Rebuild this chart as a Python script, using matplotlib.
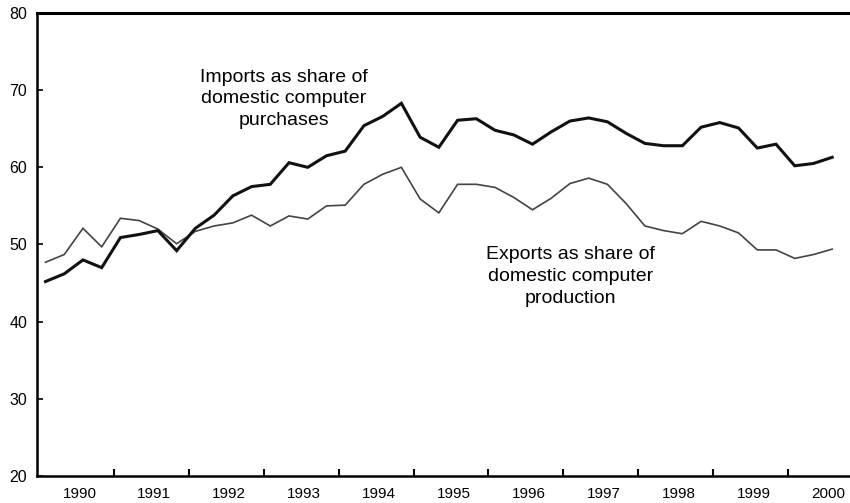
import matplotlib
matplotlib.use("Agg")
import matplotlib.pyplot as plt
import numpy as np

years = list(range(1990, 2001))
quarters = [(y, q) for y in range(1990, 2001) for q in (1, 2, 3, 4)][:43]

imports = [45.2, 46.2, 48.0, 47.0, 50.9, 51.3, 51.8, 49.2,
           52.1, 53.8, 56.3, 57.5, 57.8, 60.6, 60.0, 61.5,
           62.1, 65.4, 66.6, 68.3, 63.9, 62.6, 66.1, 66.3,
           64.8, 64.2, 63.0, 64.6, 66.0, 66.4, 65.9, 64.4,
           63.1, 62.8, 62.8, 65.2, 65.8, 65.1, 62.5, 63.0,
           60.2, 60.5, 61.3]
exports = [47.7, 48.7, 52.1, 49.7, 53.4, 53.1, 52.0, 50.1,
           51.7, 52.4, 52.8, 53.8, 52.4, 53.7, 53.3, 55.0,
           55.1, 57.8, 59.1, 60.0, 55.9, 54.1, 57.8, 57.8,
           57.4, 56.1, 54.5, 56.0, 57.9, 58.6, 57.8, 55.3,
           52.4, 51.8, 51.4, 53.0, 52.4, 51.5, 49.3, 49.3,
           48.2, 48.7, 49.4]

imports_label = "Imports as share of\ndomestic computer\npurchases"
exports_label = "Exports as share of\ndomestic computer\nproduction"

plt.rcParams['font.family'] = ['Liberation Sans', 'DejaVu Sans']

fig = plt.figure(figsize=(8.5, 5.03), dpi=100)
ax = fig.add_axes([37/850, 27/503, 813/850, 463/503])

x = np.array([y + (q - 0.65) / 4 for y, q in quarters])
ax.plot(x, exports, color="#444444", lw=1.2, solid_joinstyle="miter")
ax.plot(x, imports, color="#111111", lw=2.2, solid_joinstyle="miter")

ax.set_xlim(1989.974, 2000.825)
ax.set_ylim(20, 80)

ax.set_yticks(range(20, 81, 10))
ax.set_xticks(years[1:])
ax.set_xticklabels([])
ax.set_xticks([y + 0.54 for y in years], minor=True)
ax.set_xticklabels([str(y) for y in years], minor=True)
ax.tick_params(axis="x", which="minor", length=0, pad=8, labelsize=11)
ax.tick_params(axis="x", which="major", direction="in", length=5, width=1.5)
ax.tick_params(axis="y", direction="in", length=4, width=1.2, pad=7, labelsize=11.5)

for s in ("left", "bottom"):
    ax.spines[s].set_linewidth(1.8)
ax.spines["top"].set_linewidth(2.2)
ax.spines["right"].set_visible(False)

ax.text(1993.27, 68.86, imports_label, ha="center", va="center",
        fontsize=14, linespacing=1.38)
ax.text(1997.09, 45.9, exports_label, ha="center", va="center",
        fontsize=14, linespacing=1.38)

fig.savefig("out.png", dpi=100)
